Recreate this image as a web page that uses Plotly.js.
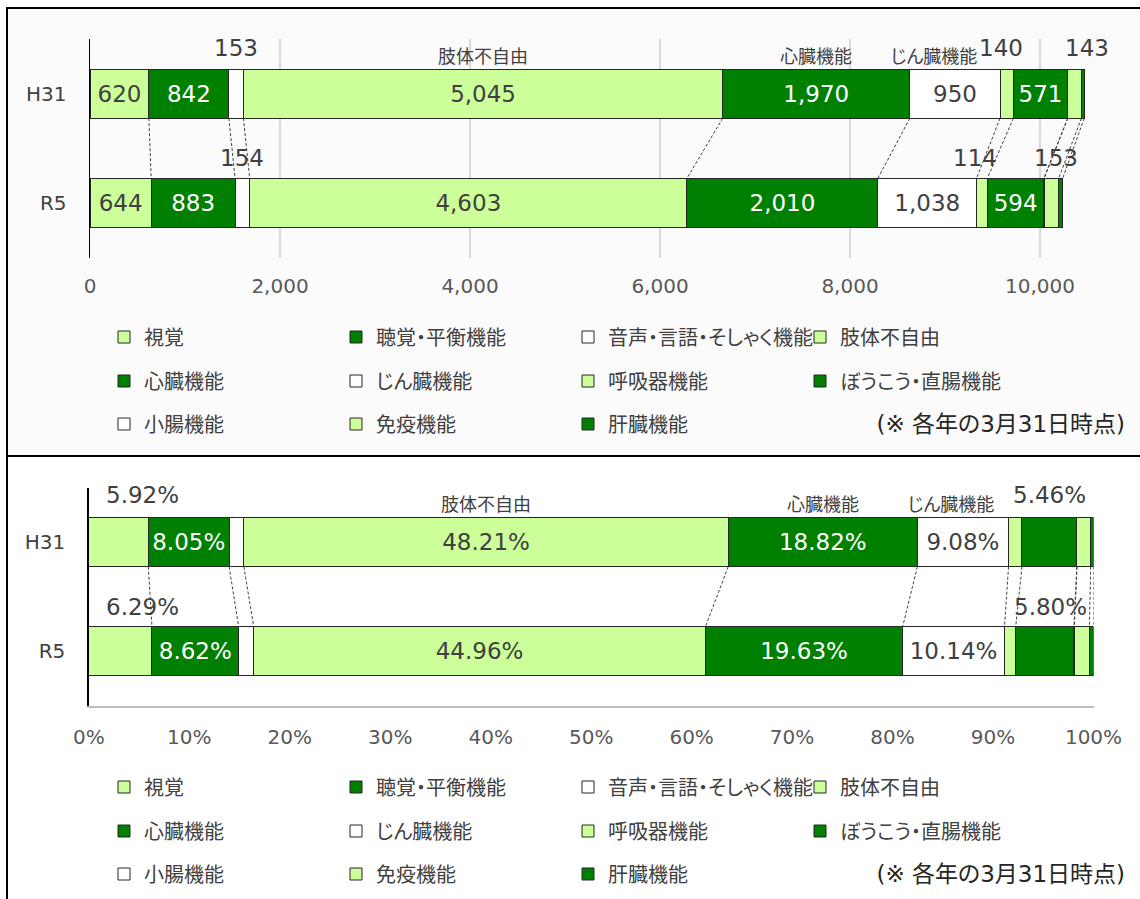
<!DOCTYPE html>
<html><head><meta charset="utf-8">
<script src="https://cdn.plot.ly/plotly-3.0.1.min.js"></script>
<style>html,body{margin:0;padding:0;background:#fff}#chart{width:1140px;height:899px}
#chart text{font-feature-settings:"palt" 1;}</style>
</head><body><div id="chart"></div>
<script>
// ---------- data ----------
const categories = ['H31', 'R5'];
const seriesNames = ['視覚', '聴覚・平衡機能', '音声・言語・そしゃく機能', '肢体不自由', '心臓機能', 'じん臓機能', '呼吸器機能', 'ぼうこう・直腸機能', '小腸機能', '免疫機能', '肝臓機能'];
const shikaku  = [620, 644];
const choukaku = [842, 883];
const onsei    = [153, 154];
const shitai   = [5045, 4603];
const shinzou  = [1970, 2010];
const jinzou   = [950, 1038];
const kokyuki  = [140, 114];
const boukou   = [571, 594];
const shouchou = [2, 4];
const meneki   = [143, 153];
const kanzou   = [29, 42];
const countTickVals = [0, 2000, 4000, 6000, 8000, 10000];
const countTickText = ['0', '2,000', '4,000', '6,000', '8,000', '10,000'];
const pctTickVals = [0, 0.1, 0.2, 0.3, 0.4, 0.5, 0.6, 0.7, 0.8, 0.9, 1];
const pctTickText = ['0%', '10%', '20%', '30%', '40%', '50%', '60%', '70%', '80%', '90%', '100%'];
const noteText = '(※ 各年の3月31日時点)';

const values = [shikaku, choukaku, onsei, shitai, shinzou, jinzou, kokyuki, boukou, shouchou, meneki, kanzou];

// ---------- style ----------
const W = 1140, H = 899;
const LIGHT = '#CCFF99', DARK = '#008000', WHITE = '#FFFFFF';
const colors = [LIGHT, DARK, WHITE, LIGHT, DARK, WHITE, LIGHT, DARK, WHITE, LIGHT, DARK];
const insideColor = c => (c === DARK ? '#FFFFFF' : '#404040');
const NUMFONT = 'DejaVu Sans, Noto Sans CJK JP, sans-serif';
const JPFONT = 'Noto Sans CJK JP, sans-serif';
const TXT = '#404040', TICK = '#595959';
const px = x => x / W;
const py = y => 1 - y / H;
const BARW = 0.45;

// label placement rules (which segments carry which label, shifts in px)
const countInside = [0, 1, 3, 4, 5, 7];
const countAbove = {2: [0, 0], 6: [-6, -7], 9: [12, 5]};
const countNames = {3: 0, 4: 0, 5: -21};
const pctInside = [1, 3, 4, 5];
const pctAbove = {0: [24, 22], 7: [0, 6]};
const pctNames = {3: 0, 4: 0, 5: -12};

const totals = categories.map((c, i) => values.reduce((s, v) => s + v[i], 0));
const pct = values.map(v => v.map((x, i) => x / totals[i]));
const fmtCount = n => n.toLocaleString('en-US');
const fmtPct = p => (p * 100).toFixed(2) + '%';

function cumul(vals) {
  const out = []; const run = categories.map(() => 0);
  vals.forEach(v => { const start = run.slice(); v.forEach((x, i) => run[i] += x); out.push({start, end: run.slice()}); });
  return out;
}
const cumCount = cumul(values);
const cumPct = cumul(pct);

const traces = [];
const legendsTop = ['legend', 'legend2', 'legend3'];
const legendsBot = ['legend4', 'legend5', 'legend6'];
seriesNames.forEach((name, k) => {
  const row = Math.floor(k / 4);
  const common = {
    type: 'bar', orientation: 'h', name: name, y: categories,
    marker: {color: colors[k], line: {color: '#262626', width: 1}},
    textposition: 'inside', insidetextanchor: 'middle', textangle: 0, constraintext: 'none',
    insidetextfont: {family: NUMFONT, size: 23, color: insideColor(colors[k])},
    hoverinfo: 'skip'
  };
  traces.push(Object.assign({}, common, {
    x: values[k], xaxis: 'x', yaxis: 'y', legend: legendsTop[row],
    text: values[k].map(v => countInside.includes(k) ? fmtCount(v) : '')
  }));
  traces.push(Object.assign({}, common, {
    x: pct[k], xaxis: 'x2', yaxis: 'y2', legend: legendsBot[row],
    text: pct[k].map(v => pctInside.includes(k) ? fmtPct(v) : '')
  }));
});

const annotations = [];
const shapes = [];
// connectors between the two bars, one per segment boundary
function connectors(cum, xr, yr) {
  cum.forEach(c => {
    shapes.push({type: 'line', xref: xr, yref: yr, x0: c.end[0], y0: 0 + BARW / 2, x1: c.end[1], y1: 1 - BARW / 2,
      line: {color: '#404040', width: 1, dash: '3px,2px'}});
  });
}
connectors(cumCount, 'x', 'y');
connectors(cumPct, 'x2', 'y2');

function aboveLabels(cum, vals, rule, fmt, xr, yr, shifts) {
  Object.keys(rule).forEach(kk => {
    const k = +kk;
    categories.forEach((c, i) => {
      annotations.push({xref: xr, yref: yr, x: (cum[k].start[i] + cum[k].end[i]) / 2, y: i - BARW / 2,
        text: fmt(vals[k][i]), showarrow: false, xanchor: 'center', yanchor: 'middle',
        xshift: rule[k][i], yshift: shifts[i], font: {family: NUMFONT, size: 23, color: TXT}});
    });
  });
}
function nameLabels(cum, rule, xr, yr, shift) {
  Object.keys(rule).forEach(kk => {
    const k = +kk;
    annotations.push({xref: xr, yref: yr, x: (cum[k].start[0] + cum[k].end[0]) / 2, y: 0 - BARW / 2,
      text: seriesNames[k], showarrow: false, xanchor: 'center', yanchor: 'middle',
      xshift: rule[k], yshift: shift, font: {family: JPFONT, size: 18, color: TXT}});
  });
}
aboveLabels(cumCount, values, countAbove, fmtCount, 'x', 'y', [21, 20]);
aboveLabels(cumPct, pct, pctAbove, fmtPct, 'x2', 'y2', [23, 20]);
nameLabels(cumCount, countNames, 'x', 'y', 14);
nameLabels(cumPct, pctNames, 'x2', 'y2', 15);

[424, 874].forEach(yy => annotations.push({xref: 'paper', yref: 'paper', x: px(1127), y: py(yy),
  xanchor: 'right', yanchor: 'middle', showarrow: false, text: noteText,
  font: {family: NUMFONT, size: 23, color: '#262626'}}));

// panel frames
shapes.push({type: 'rect', xref: 'paper', yref: 'paper', x0: px(7), y0: py(456), x1: px(1145), y1: py(8),
  line: {color: '#000', width: 2}, fillcolor: '#FBFBFB', layer: 'below'});
shapes.push({type: 'line', xref: 'paper', yref: 'paper', x0: px(7), y0: py(456), x1: px(7), y1: py(905),
  line: {color: '#000', width: 2}, layer: 'below'});

function legendAt(yy) {
  return {orientation: 'h', x: px(104), xanchor: 'left', y: py(yy), yanchor: 'middle',
    entrywidth: 187, entrywidthmode: 'pixels', traceorder: 'normal', bgcolor: 'rgba(0,0,0,0)',
    font: {family: JPFONT, size: 20, color: TXT}, itemclick: false, itemdoubleclick: false};
}

const layout = {
  width: W, height: H, margin: {l: 0, r: 0, t: 0, b: 0},
  paper_bgcolor: '#FFFFFF', plot_bgcolor: 'rgba(0,0,0,0)',
  barmode: 'stack', bargap: 1 - BARW,
  showlegend: true,
  xaxis: {domain: [px(90), px(1087.5)], range: [0, 10500], tickvals: countTickVals, ticktext: countTickText,
    showgrid: true, gridcolor: '#D9D9D9', gridwidth: 1.5, zeroline: false, showline: false, ticks: '',
    ticklabelstandoff: 14, tickfont: {family: NUMFONT, size: 20, color: TICK}, fixedrange: true},
  yaxis: {domain: [py(257.5), py(39)], type: 'category', categoryarray: categories, range: [1.5, -0.5],
    showgrid: false, zeroline: false, showline: true, linecolor: '#000', linewidth: 1.5, ticks: '',
    ticklabelstandoff: 18, tickfont: {family: NUMFONT, size: 20, color: TXT}, fixedrange: true},
  xaxis2: {domain: [px(88.8), px(1093.5)], range: [0, 1], tickvals: pctTickVals, ticktext: pctTickText,
    showgrid: false, zeroline: false, showline: true, linecolor: '#BFBFBF', linewidth: 1.5, ticks: '',
    ticklabelstandoff: 12, anchor: 'y2', tickfont: {family: NUMFONT, size: 20, color: TICK}, fixedrange: true},
  yaxis2: {domain: [py(706), py(487.5)], type: 'category', categoryarray: categories, range: [1.5, -0.5],
    anchor: 'x2', showgrid: false, zeroline: false, showline: true, linecolor: '#000', linewidth: 1.5, ticks: '',
    ticklabelstandoff: 18, tickfont: {family: NUMFONT, size: 20, color: TXT}, fixedrange: true},
  legend: legendAt(337), legend2: legendAt(381), legend3: legendAt(424),
  legend4: legendAt(787), legend5: legendAt(831), legend6: legendAt(874),
  annotations: annotations, shapes: shapes
};

Plotly.newPlot('chart', traces, layout, {staticPlot: true, displayModeBar: false});
</script></body></html>
